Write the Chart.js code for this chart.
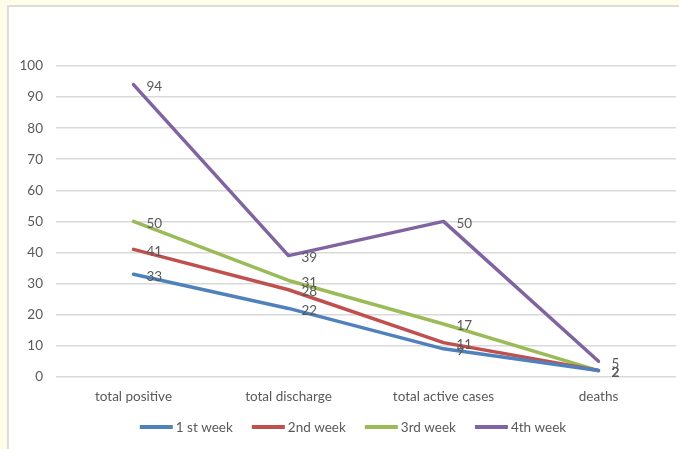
<!DOCTYPE html>
<html>
<head>
<meta charset="utf-8">
<script src="https://cdn.jsdelivr.net/npm/chart.js@4/dist/chart.umd.min.js"></script>
<style>
  html, body { margin: 0; padding: 0; }
  body { width: 679px; height: 449px; background: #FFFCE8; position: relative; overflow: hidden; }
  #panel { position: absolute; left: 7px; top: 5px; width: 720px; height: 480px;
           background: #fff; border: 2px solid #DCDCDC; box-sizing: border-box; }
  #wrap { position: absolute; left: 0; top: 0; width: 679px; height: 449px; }
</style>
</head>
<body>
<div id="panel"></div>
<div id="wrap"><canvas id="c" width="679" height="449"></canvas></div>
<script>
// Weekly case counts
const categories = ['total positive', 'total discharge', 'total active cases', 'deaths'];
const week1 = [33, 22, 9, 2];
const week2 = [41, 28, 11, 2];
const week3 = [50, 31, 17, 2];
const week4 = [94, 39, 50, 5];
const seriesNames = ['1 st week', '2nd week', '3rd week', '4th week'];
const seriesColors = ['#4F81BD', '#C0504D', '#9BBB59', '#8064A2'];
const yTicks = [0, 10, 20, 30, 40, 50, 60, 70, 80, 90, 100];

const FONT = 'Lato, "Open Sans", sans-serif';
const TEXT = '#595959';
const FONT_SIZE = 13.5;

// Value labels to the right of each point
const valueLabels = {
  id: 'valueLabels',
  afterDatasetsDraw(chart) {
    const ctx = chart.ctx;
    ctx.save();
    ctx.font = FONT_SIZE + 'px ' + FONT;
    ctx.fillStyle = TEXT;
    ctx.textAlign = 'left';
    ctx.textBaseline = 'middle';
    chart.data.datasets.forEach((ds, i) => {
      chart.getDatasetMeta(i).data.forEach((pt, j) => {
        ctx.fillText(String(ds.data[j]), pt.x + 13, pt.y + 2);
      });
    });
    ctx.restore();
  }
};

// Legend row under the axis: short line sample followed by series name
const bottomLegend = {
  id: 'bottomLegend',
  afterDraw(chart) {
    const ctx = chart.ctx;
    const sample = 33, gap = 3, spacing = 19, centerX = 353, y = 427;
    ctx.save();
    ctx.font = FONT_SIZE + 'px ' + FONT;
    const items = chart.data.datasets.map(ds => ({
      text: ds.label, color: ds.borderColor, w: ctx.measureText(ds.label).width
    }));
    const total = items.reduce((s, it) => s + sample + gap + it.w, 0) + spacing * (items.length - 1);
    let x = centerX - total / 2;
    ctx.textBaseline = 'middle';
    ctx.textAlign = 'left';
    items.forEach(it => {
      ctx.strokeStyle = it.color;
      ctx.lineWidth = 4;
      ctx.lineCap = 'butt';
      ctx.beginPath();
      ctx.moveTo(x, y);
      ctx.lineTo(x + sample, y);
      ctx.stroke();
      ctx.fillStyle = TEXT;
      ctx.fillText(it.text, x + sample + gap, y + 1);
      x += sample + gap + it.w + spacing;
    });
    ctx.restore();
  }
};

const datasets = [week1, week2, week3, week4].map((d, i) => ({
  label: seriesNames[i],
  data: d,
  borderColor: seriesColors[i],
  backgroundColor: seriesColors[i],
  borderWidth: 3.5,
  pointRadius: 0,
  tension: 0,
  borderJoinStyle: 'round',
  borderCapStyle: 'round'
}));

new Chart(document.getElementById('c'), {
  type: 'line',
  data: { labels: categories, datasets },
  options: {
    responsive: false,
    animation: false,
    devicePixelRatio: 1,
    layout: { padding: { left: 0, right: 3, top: 66, bottom: 32 } },
    plugins: {
      tooltip: { enabled: false },
      legend: { display: false }
    },
    scales: {
      x: {
        offset: true,
        grid: { display: false, drawTicks: false },
        border: { display: false },
        ticks: { color: TEXT, font: { family: FONT, size: FONT_SIZE }, padding: 12 }
      },
      y: {
        min: 0,
        max: 100,
        afterFit(scale) { scale.width = 56; },
        afterBuildTicks(scale) { scale.ticks = yTicks.map(v => ({ value: v })); },
        grid: { color: '#D9D9D9', lineWidth: 1.5, drawTicks: false },
        border: { display: false },
        ticks: { color: TEXT, font: { family: FONT, size: FONT_SIZE }, padding: 13 }
      }
    }
  },
  plugins: [valueLabels, bottomLegend]
});
</script>
</body>
</html>
